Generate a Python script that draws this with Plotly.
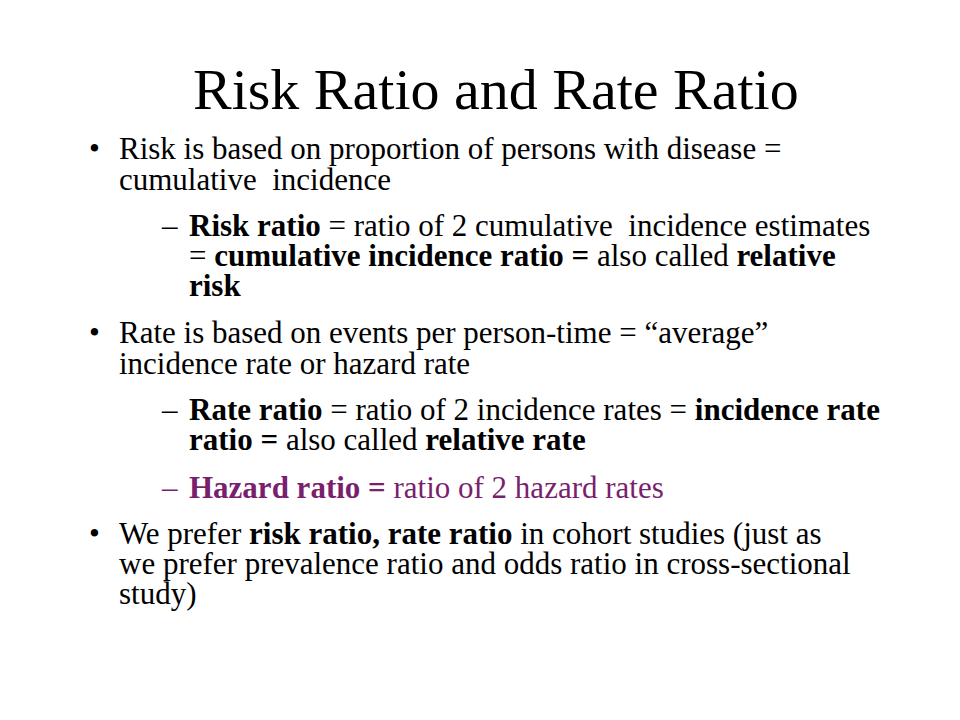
import plotly.graph_objects as go

title = "Risk Ratio and Rate Ratio"
# (marker, marker_x, text_x, y, text, color)
lines = [
    ("•", 88, 118, 148, "Risk is based on proportion of persons with disease =", "black"),
    ("", 88, 118, 178, "cumulative  incidence", "black"),
    ("–", 160, 188, 224, "<b>Risk ratio</b> = ratio of 2 cumulative  incidence estimates", "black"),
    ("", 160, 188, 254, "= <b>cumulative incidence ratio =</b> also called <b>relative</b>", "black"),
    ("", 160, 188, 284, "<b>risk</b>", "black"),
    ("•", 88, 118, 332, "Rate is based on events per person-time = “average”", "black"),
    ("", 88, 118, 362, "incidence rate or hazard rate", "black"),
    ("–", 160, 188, 408, "<b>Rate ratio</b> = ratio of 2 incidence rates = <b>incidence rate</b>", "black"),
    ("", 160, 188, 438, "<b>ratio =</b> also called <b>relative rate</b>", "black"),
    ("–", 160, 188, 486, "<b>Hazard ratio =</b> ratio of 2 hazard rates", "#7A1F6E"),
    ("•", 88, 118, 532, "We prefer <b>risk ratio, rate ratio</b> in cohort studies (just as", "black"),
    ("", 88, 118, 562, "we prefer prevalence ratio and odds ratio in cross-sectional", "black"),
    ("", 88, 118, 592, "study)", "black"),
]

W, H = 960, 720
FONT = "Liberation Serif"
DX, DY = -9, -7
fig = go.Figure()
ann = [dict(text=title, x=488 / W, y=1 - (88 + DY) / H, xref="paper", yref="paper",
            xanchor="center", yanchor="middle", showarrow=False,
            font=dict(family=FONT, size=58, color="black"))]
for m, mx, tx, y, t, c in lines:
    if m:
        ann.append(dict(text=m, x=(mx + DX) / W, y=1 - (y + DY) / H, xref="paper", yref="paper",
                        xanchor="left", yanchor="middle", showarrow=False,
                        font=dict(family=FONT, size=31, color=c)))
    ann.append(dict(text=t, x=(tx + DX) / W, y=1 - (y + DY) / H, xref="paper", yref="paper",
                    xanchor="left", yanchor="middle", showarrow=False,
                    font=dict(family=FONT, size=31, color=c)))
fig.update_layout(width=W, height=H, margin=dict(l=0, r=0, t=0, b=0),
                  paper_bgcolor="white", plot_bgcolor="white",
                  xaxis=dict(visible=False), yaxis=dict(visible=False),
                  annotations=ann, showlegend=False)
fig.write_html("out.html")
